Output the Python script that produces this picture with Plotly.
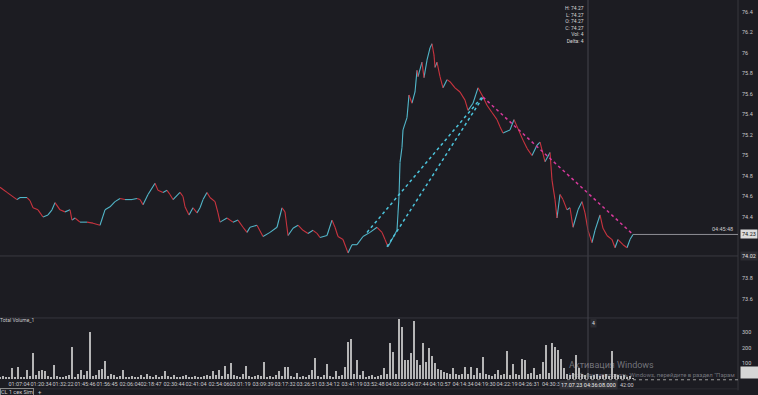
import plotly.graph_objects as go

# ---------------- data ----------------
price_idx = [0, 7, 17, 20, 27, 30, 33, 38, 43, 48, 52, 55, 60, 65, 70, 72, 75, 80, 87, 93,
             100, 105, 110, 115, 120, 125, 132, 137, 140, 143, 148, 155, 158, 163, 167, 170, 173, 180, 183, 185,
             189, 193, 197, 200, 203, 207, 210, 215, 218, 220, 227, 233, 238, 243, 247, 250,
             257, 263, 270, 277, 282, 285, 288, 293, 298, 303, 308, 313, 317, 320, 327, 332, 335, 338, 343, 348,
             352, 357, 363, 370, 377, 382, 385, 388, 393, 397, 399, 400, 402, 403, 407, 409, 412, 415, 417, 418,
             422, 424, 427, 430, 432, 434, 435, 437, 440, 443, 447, 450, 455, 460, 465, 468, 473, 478, 482, 487,
             492, 497, 500, 503, 510, 514, 523, 527, 532, 537, 540, 545, 550, 552, 555, 557, 560, 563, 567, 570,
             573, 578, 582, 585, 588, 592, 595, 600, 603, 607, 612, 615, 618, 623, 627, 630, 633]
price_close = [74.69, 74.64, 74.57, 74.59, 74.59, 74.56, 74.49, 74.47, 74.40, 74.42, 74.47, 74.54, 74.47, 74.45, 74.47, 74.37, 74.39, 74.35, 74.35, 74.34,
               74.32, 74.47, 74.50, 74.55, 74.58, 74.57, 74.57, 74.58, 74.57, 74.52, 74.62, 74.73, 74.66, 74.64, 74.66, 74.62, 74.57, 74.64, 74.60, 74.50,
               74.42, 74.49, 74.44, 74.49, 74.57, 74.64, 74.59, 74.55, 74.44, 74.35, 74.39, 74.35, 74.37, 74.30, 74.25, 74.30,
               74.32, 74.21, 74.25, 74.30, 74.49, 74.45, 74.22, 74.29, 74.32, 74.27, 74.24, 74.27, 74.24, 74.20, 74.22, 74.37, 74.30, 74.21, 74.18, 74.05,
               74.13, 74.13, 74.21, 74.25, 74.30, 74.25, 74.18, 74.11, 74.20, 74.27, 74.60, 74.93, 75.08, 75.25, 75.37, 75.59, 75.51, 75.62, 75.83, 75.77,
               75.91, 75.76, 75.93, 76.05, 76.09, 75.98, 75.86, 75.91, 75.77, 75.66, 75.74, 75.72, 75.66, 75.62, 75.54, 75.44, 75.51, 75.66, 75.59, 75.49,
               75.42, 75.35, 75.28, 75.22, 75.25, 75.35, 75.15, 75.07, 75.00, 75.10, 75.13, 74.94, 75.03, 74.76, 74.57, 74.39, 74.62, 74.57, 74.47, 74.49,
               74.30, 74.47, 74.55, 74.44, 74.27, 74.15, 74.27, 74.42, 74.29, 74.22, 74.18, 74.10, 74.18, 74.13, 74.10, 74.18, 74.23]

volume = [15, 20, 10, 12, 70, 15, 80, 12, 10, 60,
          20, 165, 25, 50, 60, 50, 20, 15, 90, 20,
          15, 10, 20, 25, 205, 15, 30, 60, 25, 50,
          305, 20, 25, 60, 65, 115, 20, 30, 25, 15,
          20, 60, 15, 10, 20, 15, 10, 25, 15, 30,
          20, 15, 25, 15, 20, 55, 20, 15, 25, 10,
          15, 20, 25, 15, 10, 20, 15, 15, 20, 25,
          20, 55, 25, 60, 20, 85, 30, 105, 25, 20,
          15, 30, 85, 20, 15, 20, 25, 20, 110, 15,
          20, 10, 25, 50, 20, 80, 80, 20, 15, 40,
          15, 20, 10, 25, 60, 135, 20, 15, 25, 100,
          20, 15, 55, 20, 25, 75, 240, 260, 30, 125,
          25, 50, 15, 20, 25, 15, 20, 25, 70, 30,
          230, 175, 35, 390, 335, 120, 125, 170, 375, 125,
          90, 235, 110, 200, 150, 105, 65, 60, 45, 40,
          35, 70, 30, 25, 35, 75, 30, 80, 25, 70,
          40, 140, 30, 25, 20, 30, 60, 25, 30, 180,
          25, 95, 30, 25, 130, 125, 30, 40, 70, 25,
          30, 110, 220, 40, 230, 210, 185, 130, 70, 30,
          25, 40, 155, 70, 30, 25, 40, 20, 25, 30,
          20, 25, 30, 20, 180, 30, 25, 20, 25, 15,
          20, 4]
vol_step = 3
vol_idx = [vol_step * i for i in range(len(volume))]

time_tick_idx = [19, 41, 63, 85, 107, 130, 151, 174, 196, 219, 240, 263, 285, 307, 329, 352, 374,
                 396, 418, 440, 463, 485, 507, 529, 551]
time_tick_text = ["01:07:04", "01:20:34", "01:32:22", "01:45:46", "01:56:45", "02:06:04", "02:18:47",
                  "02:30:44", "02:41:04", "02:54:06", "03:01:19", "03:09:39", "03:17:32", "03:26:51",
                  "03:34:12", "03:41:19", "03:52:48", "04:03:05", "04:07:44", "04:10:57", "04:14:34",
                  "04:19:30", "04:22:19", "04:26:31", "04:30:3"]
partial_tick_idx = 618
partial_tick_text = "42:00"

price_ticks = [73.6, 73.8, 74.4, 74.6, 74.8, 75.0, 75.2, 75.4, 75.6, 75.8, 76.0, 76.2, 76.4]
price_tick_text = ["73.6", "73.8", "74.4", "74.6", "74.8", "75", "75.2", "75.4", "75.6", "75.8", "76", "76.2", "76.4"]
vol_ticks = [100, 200, 300]

# drawn trend lines (bar index, price)
cyan_line1_x, cyan_line1_y = [367, 482], [74.25, 75.57]
cyan_line2_x, cyan_line2_y = [387, 483], [74.11, 75.57]
pink_line_x, pink_line_y = [483, 633], [75.57, 74.23]

last_price = 74.23
last_time = "04:45:48"
cross_idx = 588
cross_price = 74.02
cross_time = "17.07.23 04:36:08.000"
ohlc_text = "H: 74.27<br>L: 74.27<br>O: 74.27<br>C: 74.27<br>Vol: 4<br>Delta: 4"

# ---------------- style ----------------
BG = "#1c1c22"
CYAN = "#52b6c9"
RED = "#c9343f"
TXT = "#c9c9cc"
LINE = "#36363d"
FONT = "Roboto"
X_MAX = 738
P_RANGE = [73.415, 76.517]
V_RANGE = [0, 394]
SPLIT = 0.161

fig = go.Figure()

up_x, up_y, dn_x, dn_y = [], [], [], []
for i in range(1, len(price_idx)):
    xs = [price_idx[i - 1], price_idx[i], None]
    ys = [price_close[i - 1], price_close[i], None]
    if price_close[i] >= price_close[i - 1]:
        up_x += xs; up_y += ys
    else:
        dn_x += xs; dn_y += ys

fig.add_trace(go.Scatter(x=up_x, y=up_y, mode="lines", line=dict(color=CYAN, width=1.1),
                         xaxis="x", yaxis="y", hoverinfo="skip", showlegend=False))
fig.add_trace(go.Scatter(x=dn_x, y=dn_y, mode="lines", line=dict(color=RED, width=1.1),
                         xaxis="x", yaxis="y", hoverinfo="skip", showlegend=False))

for lx, ly, col in [(cyan_line1_x, cyan_line1_y, "#4cc4dc"),
                    (cyan_line2_x, cyan_line2_y, "#4cc4dc"),
                    (pink_line_x, pink_line_y, "#d8399c")]:
    fig.add_trace(go.Scatter(x=lx, y=ly, mode="lines", line=dict(color=col, width=1.5, dash="dot"),
                             xaxis="x", yaxis="y", hoverinfo="skip", showlegend=False))

fig.add_trace(go.Bar(x=vol_idx, y=volume, width=1.0, marker=dict(color="#d0d0d0", line=dict(width=0)),
                     opacity=0.85, xaxis="x2", yaxis="y2", hoverinfo="skip", showlegend=False))

shapes = [
    dict(type="line", xref="paper", yref="paper", x0=0, x1=1, y0=SPLIT, y1=SPLIT, line=dict(color=LINE, width=1)),
    dict(type="line", xref="paper", yref="paper", x0=1, x1=1, y0=-0.03, y1=1, line=dict(color=LINE, width=1)),
    dict(type="line", xref="paper", yref="paper", x0=0, x1=1, y0=-0.026, y1=-0.026, line=dict(color="#2c2c32", width=1)),
    dict(type="line", xref="x", yref="paper", x0=cross_idx, x1=cross_idx, y0=0, y1=1, line=dict(color="#45454c", width=1)),
    dict(type="line", xref="paper", yref="y", x0=0, x1=1, y0=cross_price, y1=cross_price, line=dict(color="#3a3a41", width=1)),
    dict(type="line", xref="x", yref="y", x0=price_idx[-1], x1=X_MAX, y0=last_price, y1=last_price,
         line=dict(color="#8f8f95", width=1)),
    dict(type="line", xref="x", yref="paper", x0=567, x1=X_MAX, y0=-0.002, y1=-0.002,
         line=dict(color="#9a9a9a", width=1, dash="dot")),
]

ann = [
    dict(text=f"{last_price:.2f}", xref="paper", x=1, xanchor="left", xshift=2, yref="y", y=last_price,
         showarrow=False, bgcolor="#dcdcdc", font=dict(color="#111", size=5.5, family=FONT), borderpad=1),
    dict(text=last_time, xref="x", x=735, xanchor="right", yref="y", y=last_price, yanchor="bottom",
         showarrow=False, font=dict(color=TXT, size=5.5, family=FONT)),
    dict(text=f"{cross_price:.2f}", xref="paper", x=1, xanchor="left", xshift=2, yref="y", y=cross_price,
         showarrow=False, bgcolor="#2b2b31", font=dict(color="#e6e6e6", size=5.5, family=FONT), borderpad=1),
    dict(text=ohlc_text, xref="x", x=586, xanchor="right", yref="paper", y=1, yanchor="top", yshift=-3,
         align="right", showarrow=False, font=dict(color="#d8d8d8", size=5, family=FONT)),
    dict(text="4", xref="x", x=593, yref="y2", y=361, showarrow=False, bgcolor="#2b2b31",
         font=dict(color="#e0e0e0", size=5, family=FONT), borderpad=1),
    dict(text="Total Volume_1", xref="paper", x=0, xanchor="left", xshift=-2, yref="y2", y=382,
         showarrow=False, font=dict(color=TXT, size=5, family=FONT)),
    dict(text=cross_time, xref="x", x=cross_idx, yref="paper", y=0, yanchor="top", yshift=-1,
         showarrow=False, bgcolor="#303036", font=dict(color="#ececec", size=5.5, family=FONT), borderpad=1),
    dict(text=partial_tick_text, xref="x", x=partial_tick_idx, xanchor="left", yref="paper", y=0,
         yanchor="top", yshift=-1, showarrow=False, font=dict(color=TXT, size=5.5, family=FONT)),
    dict(text="", xref="paper", x=1, xanchor="left", xshift=2, yref="y2", y=40, width=16, height=9,
         showarrow=False, bgcolor="#d6d6d6"),
    dict(text="Активация Windows", xref="x", x=567, xanchor="left", yref="y2", y=92,
         showarrow=False, font=dict(color="rgba(190,190,195,0.55)", size=9, family=FONT)),
    dict(text="Чтобы активировать Windows, перейдите в раздел \"Парам", xref="x", x=567, xanchor="left",
         yref="y2", y=32, showarrow=False, font=dict(color="rgba(190,190,195,0.55)", size=6, family=FONT)),
    dict(text="CL 1 сек Sim", xref="paper", x=0, xanchor="left", yref="paper", y=-0.034, yanchor="middle",
         showarrow=False, bordercolor="#8a8a8a", borderwidth=1, borderpad=0,
         font=dict(color="#d0d0d0", size=5.5, family=FONT)),
    dict(text="+", xref="paper", x=40 / X_MAX, xanchor="center", yref="paper", y=-0.034, yanchor="middle",
         showarrow=False, font=dict(color="#d0d0d0", size=6, family=FONT)),
]

axis_common = dict(showgrid=False, zeroline=False, showline=False)
fig.update_layout(
    width=758, height=395,
    margin=dict(l=0, r=20, t=0, b=16),
    paper_bgcolor=BG, plot_bgcolor=BG,
    font=dict(family=FONT, color=TXT, size=5.5),
    showlegend=False,
    xaxis=dict(domain=[0, 1], range=[0, X_MAX], anchor="y", showticklabels=False, ticks="", **axis_common),
    xaxis2=dict(domain=[0, 1], range=[0, X_MAX], anchor="y2", tickvals=time_tick_idx, ticktext=time_tick_text,
                ticks="", tickangle=0, tickfont=dict(size=5.5, color=TXT, family=FONT), **axis_common),
    yaxis=dict(domain=[SPLIT, 1], range=P_RANGE, anchor="x", side="right", tickvals=price_ticks,
               ticktext=price_tick_text, ticks="", ticklabelstandoff=3,
               tickfont=dict(size=5.5, color=TXT, family=FONT), **axis_common),
    yaxis2=dict(domain=[0, SPLIT], range=V_RANGE, anchor="x2", side="right", tickvals=vol_ticks, ticks="",
                ticklabelstandoff=3, tickfont=dict(size=5.5, color=TXT, family=FONT), **axis_common),
    shapes=shapes,
    annotations=ann,
    bargap=0,
)

fig.write_html("out.html", config={"displayModeBar": False},
               post_script="document.body.style.margin='0';document.body.style.background='#1c1c22';"
                           "document.body.style.overflow='hidden';")
